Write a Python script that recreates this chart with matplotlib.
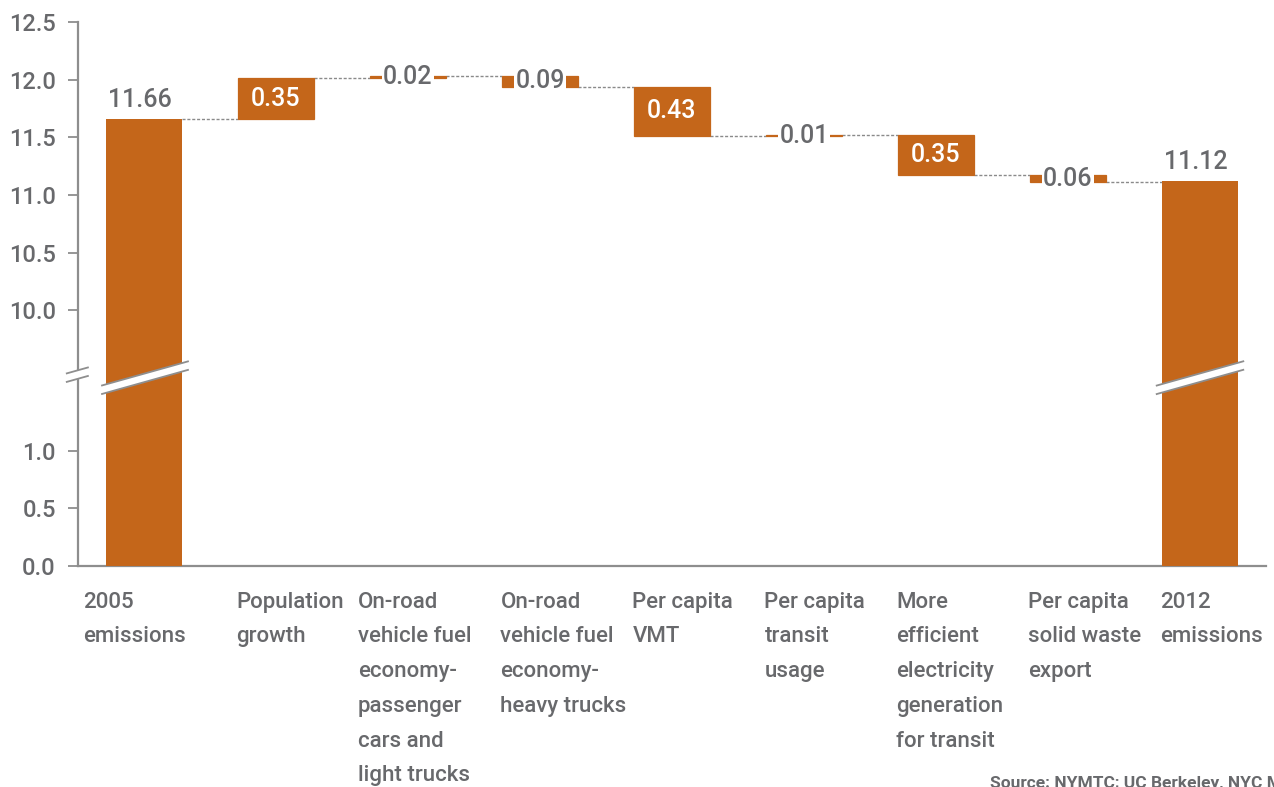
import numpy as np
import matplotlib
matplotlib.use("Agg")
import matplotlib.pyplot as plt
from matplotlib.transforms import blended_transform_factory
from matplotlib.patches import Polygon

plt.rcParams['font.family'] = ['Roboto', 'DejaVu Sans']

# ---- data -------------------------------------------------------------
categories = [
    "2005\nemissions",
    "Population\ngrowth",
    "On-road\nvehicle fuel\neconomy-\npassenger\ncars and\nlight trucks",
    "On-road\nvehicle fuel\neconomy-\nheavy trucks",
    "Per capita\nVMT",
    "Per capita\ntransit\nusage",
    "More\nefficient\nelectricity\ngeneration\nfor transit",
    "Per capita\nsolid waste\nexport",
    "2012\nemissions",
]
start_total = 11.66
changes = [0.35, 0.02, -0.09, -0.43, 0.01, -0.35, -0.06]
end_total = 11.12

y_ticks = [0.0, 0.5, 1.0, 10.0, 10.5, 11.0, 11.5, 12.0, 12.5]

# ---- style ------------------------------------------------------------
BAR = "#c4661a"
TEXT = "#68696c"
AXIS = "#8e8e8e"
BAR_W = 0.576

# broken axis: values between LOW_TOP and LOW_TOP + SHIFT are collapsed
LOW_TOP = 1.66
SHIFT = 7.78


def forward(v):
    v = np.asarray(v, dtype=float)
    return np.where(v <= LOW_TOP, v,
                    np.where(v >= LOW_TOP + SHIFT, v - SHIFT, LOW_TOP))


def inverse(u):
    u = np.asarray(u, dtype=float)
    return np.where(u <= LOW_TOP, u, u + SHIFT)


W, H = 1274, 787
fig = plt.figure(figsize=(W / 100, H / 100), dpi=100)
ax = fig.add_axes([78 / W, (H - 566) / H, (1266 - 78) / W, 544 / H])
ax.set_yscale('function', functions=(forward, inverse))
ax.set_ylim(0, 12.5)
ax.set_xlim(-0.5, len(categories) - 0.5)

# running totals
levels = [start_total]
for c in changes:
    levels.append(levels[-1] + c)

# total bars
ax.bar(0, start_total, width=BAR_W, color=BAR, zorder=3)
ax.bar(len(categories) - 1, end_total, width=BAR_W, color=BAR, zorder=3)

# change bars (thin edge keeps the tiniest steps visible)
for i, c in enumerate(changes, start=1):
    lo = min(levels[i - 1], levels[i])
    ax.bar(i, abs(c), bottom=lo, width=BAR_W, color=BAR, edgecolor=BAR,
           linewidth=0.9, zorder=3)

# dashed connectors
for i in range(len(categories) - 1):
    y = levels[i]
    ax.plot([i + BAR_W / 2, i + 1 - BAR_W / 2], [y, y], color="#8a8a8a",
            lw=1.0, ls=(0, (2.2, 1.3)), zorder=2)

# value labels
ax.annotate(f"{start_total:.2f}", (0, start_total), xytext=(-3, 5),
            textcoords="offset points", ha="center", va="bottom",
            fontsize=18, color=TEXT, fontweight="medium", zorder=6)
ax.annotate(f"{end_total:.2f}", (len(categories) - 1, end_total), xytext=(-3, 5),
            textcoords="offset points", ha="center", va="bottom",
            fontsize=18, color=TEXT, fontweight="medium", zorder=6)
for i, c in enumerate(changes, start=1):
    mid = (levels[i - 1] + levels[i]) / 2
    label = f"{abs(c):.2f}"
    if abs(c) >= 0.3:
        ax.text(i, mid, label, ha="center", va="center", fontsize=18,
                color="white", fontweight="medium", zorder=6)
    else:
        ax.text(i, mid, label, ha="center", va="center", fontsize=18,
                color=TEXT, fontweight="medium", zorder=6,
                bbox=dict(boxstyle="square,pad=0.06", fc="white", ec="none"))

# axes styling
ax.set_yticks(y_ticks)
ax.set_yticklabels([f"{t:.1f}" for t in y_ticks], fontweight="medium")
ax.set_xticks([])
ax.tick_params(axis="y", direction="out", length=7, width=1.3, color=AXIS,
               labelsize=17, labelcolor=TEXT, pad=9)
for side in ("top", "right"):
    ax.spines[side].set_visible(False)
for side in ("left", "bottom"):
    ax.spines[side].set_color(AXIS)
    ax.spines[side].set_linewidth(1.6)

# category labels below the axis
label_nudge = [-0.16, 0.0, -0.08, 0.0, 0.0, 0.0, 0.0, 0.0, 0.0]
tr_lab = blended_transform_factory(ax.transData, ax.transAxes)
for i, (name, dx) in enumerate(zip(categories, label_nudge)):
    ax.text(i - 0.3 + dx, -0.047, name, transform=tr_lab, ha="left", va="top",
            fontsize=16, color=TEXT, fontweight="medium", linespacing=1.86)

# break markers
frac = float(forward(LOW_TOP)) / float(forward(12.5))
slope = 0.28 * 132 / 544  # axes-fraction rise per data-x unit


def break_band(x0, x1, yc, gap):
    def yl(x):
        return yc + (x - (x0 + x1) / 2) * slope
    poly = Polygon([(x0, yl(x0) - gap / 2), (x1, yl(x1) - gap / 2),
                    (x1, yl(x1) + gap / 2), (x0, yl(x0) + gap / 2)],
                   closed=True, transform=tr_lab, facecolor="white",
                   edgecolor="none", zorder=7, clip_on=False)
    ax.add_patch(poly)
    for s in (-1, 1):
        ax.plot([x0, x1], [yl(x0) + s * gap / 2, yl(x1) + s * gap / 2],
                transform=tr_lab, color=AXIS, lw=1.3, zorder=8, clip_on=False)


gap = 8.5 / 544
break_band(-0.585, -0.425, frac, gap)
break_band(-BAR_W / 2 - 0.03, BAR_W / 2 + 0.045, frac - 3 / 544, gap)
n = len(categories) - 1
break_band(n - BAR_W / 2 - 0.04, n + BAR_W / 2 + 0.04, frac - 3 / 544, gap)

fig.text(990 / W, 1 - 776 / H, "Source: NYMTC; UC Berkeley, NYC Mayor's Office",
         ha="left", va="top", fontsize=12.5, fontweight="bold", color=TEXT)

fig.savefig("out.png", dpi=100, facecolor="white")
